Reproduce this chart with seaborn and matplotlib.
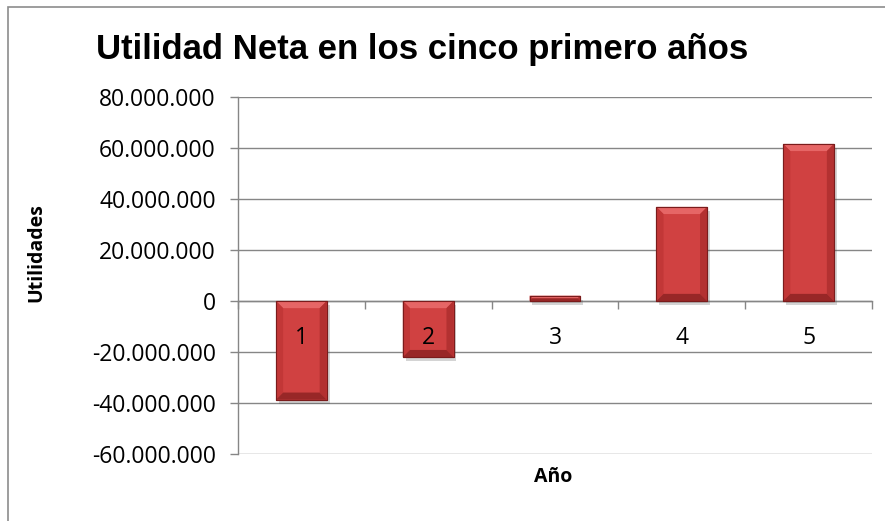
import matplotlib
matplotlib.use("Agg")
import matplotlib.pyplot as plt
import matplotlib.patheffects as pe
from matplotlib.patches import Polygon, Rectangle
from matplotlib.ticker import FuncFormatter, FixedLocator
import seaborn as sns
import pandas as pd

# Utilidad neta por año (pesos)
anios = ["1", "2", "3", "4", "5"]
utilidades = [-38_700_000, -22_000_000, 2_100_000, 36_900_000, 61_600_000]

titulo = "Utilidad Neta en los cinco primero años"
etiqueta_x = "Año"
etiqueta_y = "Utilidades"
y_ticks = [-60_000_000, -40_000_000, -20_000_000, 0, 20_000_000,
           40_000_000, 60_000_000, 80_000_000]

df = pd.DataFrame({"Año": anios, "Utilidad": utilidades})

sns.set_theme(style="white")
plt.rcParams["font.family"] = ["Open Sans", "DejaVu Sans"]

W, H = 885, 521
fig = plt.figure(figsize=(W / 100, H / 100), dpi=100)
fig.patch.set_facecolor("white")

# marco exterior del gráfico
fig.add_artist(Rectangle((8 / W, -0.1), 1.2, 1 - 7 / H + 0.1,
                         transform=fig.transFigure, fill=False,
                         edgecolor="#8c8c8c", linewidth=1.2))

ax = fig.add_axes([238 / W, 1 - 454 / H, (872 - 238) / W, (454 - 97) / H])

cara = "#d04141"
sns.barplot(data=df, x="Año", y="Utilidad", color=cara, saturation=1,
            width=0.4, edgecolor="#7a1c1c", linewidth=0.8, ax=ax, zorder=3)

ax.set_ylim(y_ticks[0], y_ticks[-1])
ax.set_xlim(-0.5, len(anios) - 0.5)

# sombra y biselado de cada barra
for p in list(ax.patches):
    p.set_path_effects([pe.SimplePatchShadow(offset=(2, -3), alpha=0.25,
                                             shadow_rgbFace="#555555"),
                        pe.Normal()])
    x0, y0 = p.get_x(), p.get_y()
    w, h = p.get_width(), p.get_height()
    if h < 0:
        y0, h = y0 + h, -h
    x1, y1 = x0 + w, y0 + h
    bx = w * 0.14
    by = min(2_800_000, h / 2)
    bxx = bx * by / 2_800_000
    # cara superior clara
    ax.add_patch(Polygon([(x0, y1), (x1, y1), (x1 - bxx, y1 - by), (x0 + bxx, y1 - by)],
                         closed=True, facecolor="#e66666", edgecolor="none", zorder=4))
    # laterales
    ax.add_patch(Polygon([(x0, y0), (x0, y1), (x0 + bxx, y1 - by), (x0 + bxx, y0 + by)],
                         closed=True, facecolor="#c23737", edgecolor="none", zorder=4))
    ax.add_patch(Polygon([(x1, y0), (x1, y1), (x1 - bxx, y1 - by), (x1 - bxx, y0 + by)],
                         closed=True, facecolor="#b33131", edgecolor="none", zorder=4))
    # cara inferior oscura
    ax.add_patch(Polygon([(x0, y0), (x1, y0), (x1 - bxx, y0 + by), (x0 + bxx, y0 + by)],
                         closed=True, facecolor="#982727", edgecolor="none", zorder=4))
    ax.add_patch(Rectangle((x0, y0), w, h, fill=False, edgecolor="#7a1c1c",
                           linewidth=0.8, zorder=5))

# eje Y
ax.yaxis.set_major_locator(FixedLocator(y_ticks))
ax.yaxis.set_major_formatter(FuncFormatter(lambda v, _: f"{int(round(v)):,}".replace(",", ".")))
ax.grid(axis="y", color="#868686", linewidth=1.0, zorder=0)
ax.tick_params(axis="y", which="major", length=6, width=1, color="#868686",
               direction="out", pad=10, labelsize=16.5, labelcolor="black", left=True)

# eje X sobre el cero, marcas entre categorías; etiquetas por encima de las barras
ax.spines["bottom"].set_position(("data", 0))
for s in ("top", "right"):
    ax.spines[s].set_visible(False)
for s in ("left", "bottom"):
    ax.spines[s].set_color("#868686")
    ax.spines[s].set_linewidth(1.0)
    ax.spines[s].set_zorder(2)
n = len(anios)
ax.set_xticks([i - 0.5 for i in range(n + 1)], labels=[""] * (n + 1))
ax.set_xticks(range(n), labels=anios, minor=True)
ax.tick_params(axis="x", which="major", length=6, width=1, color="#868686",
               direction="out", bottom=True)
ax.tick_params(axis="x", which="minor", length=0, pad=18, labelsize=16.5,
               labelcolor="black", bottom=True)
ax.xaxis.set_zorder(8)

ax.set_xlabel("")
ax.set_ylabel("")
fig.text(553 / W, 1 - 477 / H, etiqueta_x, ha="center", va="center",
         fontsize=14, fontweight="bold", color="black",
         family=["Open Sans", "DejaVu Sans"])
fig.text(36 / W, 1 - 253 / H, etiqueta_y, ha="center", va="center", rotation=90,
         fontsize=14, fontweight="bold", color="black",
         family=["Open Sans", "DejaVu Sans"])
fig.text(422 / W, 1 - 50 / H, titulo, ha="center", va="center",
         fontsize=25, fontweight="bold", color="black",
         family=["Liberation Sans", "DejaVu Sans"])

fig.savefig("out.png", dpi=100, facecolor="white")
